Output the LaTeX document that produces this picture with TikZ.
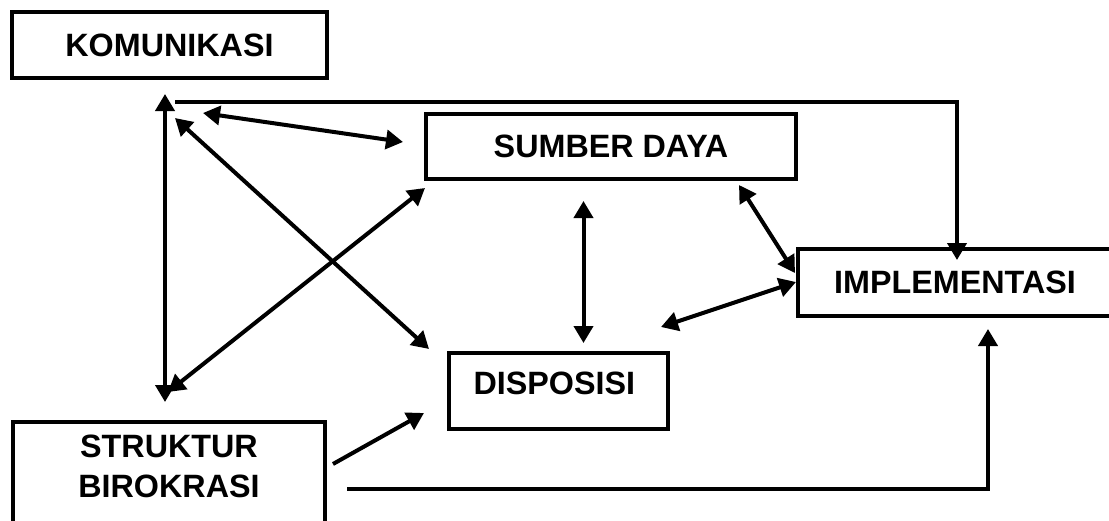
\documentclass[tikz,border=0pt]{standalone}
\usepackage{fontspec}
\setmainfont{Liberation Sans}
\usetikzlibrary{positioning}
\usetikzlibrary{arrows.meta}

\begin{document}
\begin{tikzpicture}[x=1pt, y=-1pt,
  box/.style={draw, line width=4pt, inner sep=0pt},
  lbl/.style={font=\fontsize{32.3}{40}\selectfont\bfseries, align=center},
  link/.style={line width=4pt, -{Triangle[length=17pt,width=19pt]}},
  both/.style={line width=4pt, {Triangle[length=17pt,width=19pt]}-{Triangle[length=17pt,width=19pt]}}]
  \clip (0,0) rectangle (1109,520);

  % boxes
  \node[box, lbl, minimum width=315pt, minimum height=66pt] (kom) at (169.5,45) {KOMUNIKASI};
  \node[box, lbl, minimum width=370pt, minimum height=65pt] (sumber) at (611,146.5) {SUMBER DAYA};
  \node[box, lbl, minimum width=314pt, minimum height=67pt] (impl) at (955,282.5) {IMPLEMENTASI};
  \node[box, minimum width=219pt, minimum height=76pt] (disp) at (558.5,391) {};
  \node[lbl, anchor=west] (dispText) at (470,383) {DISPOSISI};
  \node[box, minimum width=312pt, minimum height=138pt] (struktur) at (169,491) {};
  \node[lbl] (strukturText) at (169,466) {STRUKTUR\\BIROKRASI};

  % free ends of the connectors
  \coordinate (komTop) at (165,94);
  \coordinate (strukTop) at (165,402);
  \coordinate (lineStart) at (175,102);
  \coordinate (implTop) at (957,260);
  \coordinate (komA) at (203,113);
  \coordinate (sumberA) at (403,142);
  \coordinate (komB) at (175,118);
  \coordinate (dispA) at (429,349);
  \coordinate (strukB) at (168,392);
  \coordinate (sumberB) at (425,188);
  \coordinate (sumberC) at (583.5,201);
  \coordinate (dispC) at (583.5,343);
  \coordinate (sumberD) at (739,185);
  \coordinate (implD) at (795,273);
  \coordinate (dispE) at (661,327);
  \coordinate (implE) at (796,282);
  \coordinate (strukF) at (333,464);
  \coordinate (dispF) at (424,413);
  \coordinate (strukG) at (347,489);
  \coordinate (implG) at (988,329);

  % connectors
  \draw[both] (komTop) -- (strukTop);
  \draw[link] (lineStart) -| (implTop);
  \draw[both] (komA) -- (sumberA);
  \draw[both] (komB) -- (dispA);
  \draw[both] (strukB) -- (sumberB);
  \draw[both] (sumberC) -- (dispC);
  \draw[both] (sumberD) -- (implD);
  \draw[both] (dispE) -- (implE);
  \draw[link] (strukF) -- (dispF);
  \draw[link] (strukG) -| (implG);

\end{tikzpicture}
\end{document}
